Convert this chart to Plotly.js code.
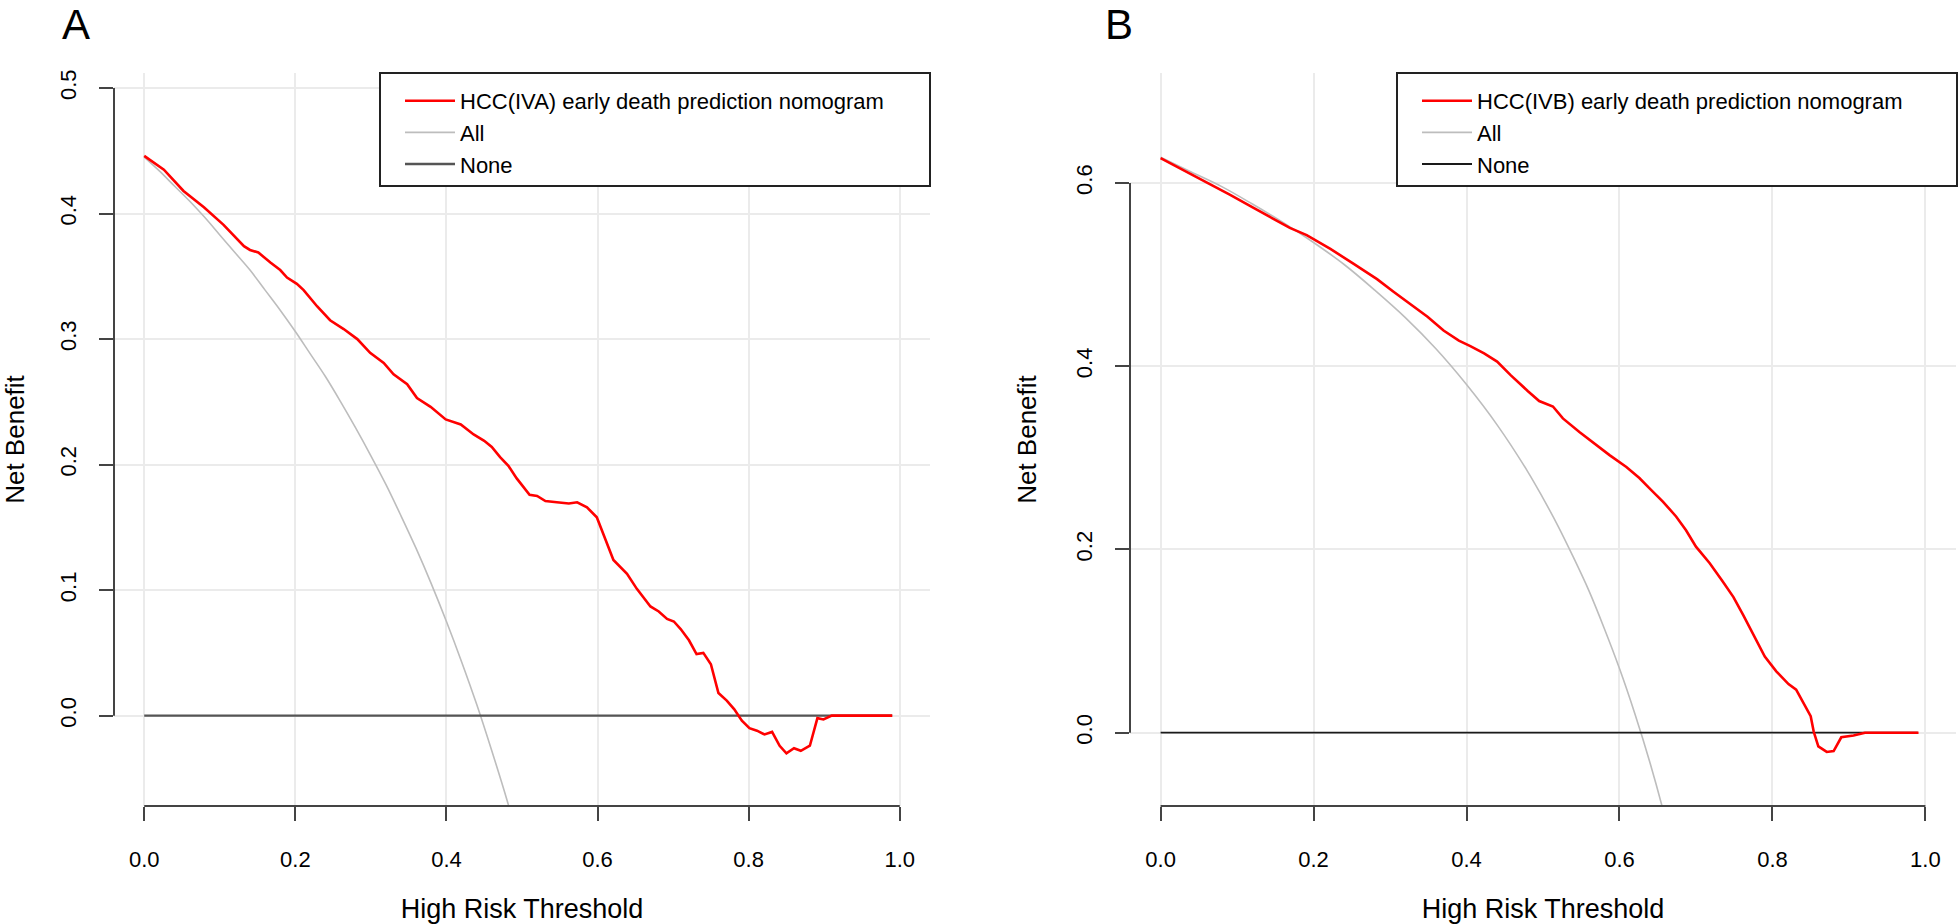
<!DOCTYPE html>
<html><head><meta charset="utf-8">
<script src="https://cdn.plot.ly/plotly-3.0.1.min.js"></script>
<style>html,body{margin:0;padding:0;background:#fff}#chart{width:1960px;height:924px}</style>
</head><body><div id="chart"></div>
<script>
// ---------- data ----------
const tickX  = [0, 0.2, 0.4, 0.6, 0.8, 1.0];
const tickYA = [0, 0.1, 0.2, 0.3, 0.4, 0.5];
const tickYB = [0, 0.2, 0.4, 0.6];

const nameModelA = 'HCC(IVA) early death prediction nomogram';
const nameModelB = 'HCC(IVB) early death prediction nomogram';
const nameAll = 'All';
const nameNone = 'None';

// Panel A: nomogram
const thrModelA = [0.000,0.026,0.052,0.079,0.105,0.132,0.140,0.151,0.167,0.180,0.189,0.202,0.211,0.229,0.246,0.264,0.282,0.299,0.317,0.330,0.348,0.361,0.379,0.399,0.419,0.436,0.450,0.460,0.471,0.482,0.493,0.510,0.520,0.531,0.546,0.562,0.573,0.586,0.599,0.610,0.621,0.639,0.652,0.670,0.681,0.692,0.701,0.710,0.721,0.731,0.740,0.750,0.760,0.771,0.781,0.791,0.801,0.811,0.821,0.831,0.841,0.850,0.860,0.869,0.881,0.891,0.899,0.910,0.990];
const nbModelA  = [0.446,0.435,0.418,0.405,0.391,0.374,0.371,0.369,0.361,0.355,0.349,0.344,0.339,0.326,0.315,0.308,0.300,0.289,0.281,0.272,0.264,0.253,0.246,0.236,0.232,0.224,0.219,0.214,0.206,0.199,0.189,0.176,0.175,0.171,0.170,0.169,0.170,0.166,0.158,0.141,0.124,0.113,0.101,0.087,0.083,0.077,0.075,0.069,0.060,0.049,0.050,0.041,0.018,0.012,0.005,-0.004,-0.010,-0.012,-0.015,-0.013,-0.024,-0.030,-0.026,-0.028,-0.024,-0.002,-0.003,0.000,0.000];
// Panel A: treat all
const thrAllA = [0.00,0.02,0.04,0.06,0.08,0.10,0.12,0.14,0.16,0.18,0.20,0.22,0.24,0.26,0.28,0.30,0.32,0.34,0.36,0.38,0.40,0.42,0.44,0.46,0.48,0.50];
const nbAllA  = [0.445,0.434,0.422,0.410,0.397,0.383,0.369,0.355,0.339,0.323,0.306,0.288,0.270,0.250,0.229,0.207,0.184,0.159,0.133,0.105,0.075,0.043,0.009,-0.028,-0.067,-0.110];

// Panel B: nomogram
const thrModelB = [0.000,0.030,0.060,0.091,0.121,0.152,0.169,0.191,0.222,0.252,0.283,0.305,0.327,0.349,0.370,0.390,0.405,0.423,0.440,0.458,0.480,0.495,0.513,0.526,0.548,0.569,0.587,0.609,0.626,0.639,0.657,0.674,0.687,0.700,0.718,0.735,0.749,0.762,0.775,0.790,0.805,0.821,0.831,0.840,0.850,0.854,0.860,0.871,0.880,0.890,0.906,0.921,0.991];
const nbModelB  = [0.627,0.614,0.601,0.587,0.573,0.559,0.551,0.543,0.528,0.512,0.495,0.481,0.468,0.454,0.439,0.428,0.422,0.414,0.405,0.390,0.373,0.362,0.356,0.343,0.328,0.314,0.303,0.290,0.278,0.267,0.252,0.236,0.221,0.203,0.185,0.165,0.148,0.128,0.107,0.083,0.067,0.053,0.047,0.034,0.018,0.001,-0.015,-0.021,-0.020,-0.005,-0.003,0.000,0.000];
// Panel B: treat all
const thrAllB = [0.00,0.04,0.08,0.12,0.16,0.20,0.24,0.28,0.32,0.36,0.40,0.44,0.48,0.50,0.52,0.54,0.56,0.58,0.60,0.62,0.64,0.66,0.68];
const nbAllB  = [0.628,0.612,0.596,0.577,0.557,0.535,0.511,0.483,0.453,0.419,0.380,0.336,0.285,0.256,0.225,0.191,0.155,0.114,0.070,0.021,-0.033,-0.094,-0.163];

// Treat none (both panels)
const thrNoneA = [0, 0.99];
const nbNoneA  = [0, 0];
const thrNoneB = [0, 0.99];
const nbNoneB  = [0, 0];

// ---------- styling ----------
const RED = '#FF0000', GREY = '#BDBDBD', AXIS = '#444444', GRID = '#EBEBEB';
const FONT = 'Liberation Sans, Arial, Helvetica, sans-serif';

const traces = [
  {x: thrAllA, y: nbAllA, name: nameAll, type: 'scatter', mode: 'lines', line: {color: GREY, width: 1.6, shape: 'spline'}, xaxis: 'x', yaxis: 'y', legend: 'legend', legendrank: 2},
  {x: thrNoneA, y: nbNoneA, name: nameNone, type: 'scatter', mode: 'lines', line: {color: '#555555', width: 2.4}, xaxis: 'x', yaxis: 'y', legend: 'legend', legendrank: 3},
  {x: thrModelA, y: nbModelA, name: nameModelA, type: 'scatter', mode: 'lines', line: {color: RED, width: 2.6}, xaxis: 'x', yaxis: 'y', legend: 'legend', legendrank: 1},
  {x: thrAllB, y: nbAllB, name: nameAll, type: 'scatter', mode: 'lines', line: {color: GREY, width: 1.6, shape: 'spline'}, xaxis: 'x2', yaxis: 'y2', legend: 'legend2', legendrank: 2},
  {x: thrNoneB, y: nbNoneB, name: nameNone, type: 'scatter', mode: 'lines', line: {color: '#1a1a1a', width: 1.8}, xaxis: 'x2', yaxis: 'y2', legend: 'legend2', legendrank: 3},
  {x: thrModelB, y: nbModelB, name: nameModelB, type: 'scatter', mode: 'lines', line: {color: RED, width: 2.6}, xaxis: 'x2', yaxis: 'y2', legend: 'legend2', legendrank: 1}
];

const W = 1960, H = 924;
const plotTop = 73, plotBottom = 806;
const yDom = [(H - plotBottom) / H, (H - plotTop) / H];

function xAxis(domain) {
  return {
    domain: domain, range: [-0.04, 1.04], tickvals: tickX, tickformat: '.1f',
    ticks: 'outside', ticklen: 14, tickwidth: 2, tickcolor: AXIS,
    showline: false, zeroline: false, showgrid: true, gridcolor: GRID, gridwidth: 2,
    tickfont: {size: 22, color: '#000'}, ticklabelstandoff: 20,
    automargin: false, fixedrange: true,
    title: {text: 'High Risk Threshold', font: {size: 27, color: '#000'}, standoff: 29}
  };
}
function yAxis(range, ticks) {
  return {
    domain: yDom, range: range, tickvals: ticks, tickformat: '.1f', tickangle: -90,
    ticks: 'outside', ticklen: 14, tickwidth: 2, tickcolor: AXIS,
    showline: false, zeroline: false, showgrid: true, gridcolor: GRID, gridwidth: 2,
    tickfont: {size: 22, color: '#000'}, ticklabelstandoff: 14,
    automargin: false, fixedrange: true,
    title: {text: 'Net Benefit', font: {size: 26, color: '#000'}, standoff: 28}
  };
}
function legendBox(x0, x1) {
  return {type: 'rect', xref: 'paper', yref: 'paper', x0: x0 / W, x1: x1 / W,
          y0: (H - 186) / H, y1: (H - 73) / H,
          fillcolor: '#FFFFFF', line: {color: '#222222', width: 2}, layer: 'above'};
}
function legendCfg(xLeft) {
  return {x: xLeft / W, xanchor: 'left', y: (H - 80) / H, yanchor: 'top',
          bgcolor: 'rgba(0,0,0,0)', borderwidth: 0, itemwidth: 50,
          font: {size: 22, color: '#000', family: FONT}, tracegroupgap: 0};
}

const layout = {
  width: W, height: H, margin: {l: 0, r: 0, t: 0, b: 0},
  paper_bgcolor: '#FFFFFF', plot_bgcolor: '#FFFFFF',
  font: {family: FONT, color: '#000'},
  xaxis: xAxis([114 / W, 930 / W]),
  yaxis: yAxis([-0.072, 0.512], tickYA),
  xaxis2: Object.assign(xAxis([1130 / W, 1956 / W]), {anchor: 'y2'}),
  yaxis2: Object.assign(yAxis([-0.080, 0.720], tickYB), {anchor: 'x2'}),
  showlegend: true,
  legend: legendCfg(400),
  legend2: legendCfg(1417),
  shapes: [
    legendBox(380, 930), legendBox(1397, 1957),
    {type: 'line', xref: 'x domain', x0: 0, x1: 0, yref: 'y', y0: tickYA[0], y1: tickYA[tickYA.length - 1], line: {color: AXIS, width: 2}},
    {type: 'line', xref: 'x', x0: tickX[0], x1: tickX[tickX.length - 1], yref: 'y domain', y0: 0, y1: 0, line: {color: AXIS, width: 2}},
    {type: 'line', xref: 'x2 domain', x0: 0, x1: 0, yref: 'y2', y0: tickYB[0], y1: tickYB[tickYB.length - 1], line: {color: AXIS, width: 2}},
    {type: 'line', xref: 'x2', x0: tickX[0], x1: tickX[tickX.length - 1], yref: 'y2 domain', y0: 0, y1: 0, line: {color: AXIS, width: 2}}
  ],
  annotations: [
    {text: 'A', xref: 'paper', yref: 'paper', x: 76 / W, y: 1, xanchor: 'center', yanchor: 'top', showarrow: false, borderpad: 0, font: {size: 42, color: '#000'}},
    {text: 'B', xref: 'paper', yref: 'paper', x: 1119 / W, y: 1, xanchor: 'center', yanchor: 'top', showarrow: false, borderpad: 0, font: {size: 42, color: '#000'}}
  ]
};

layout.xaxis.anchor = 'y';
layout.yaxis.anchor = 'x';

Plotly.newPlot('chart', traces, layout, {displayModeBar: false, staticPlot: true});
</script></body></html>
